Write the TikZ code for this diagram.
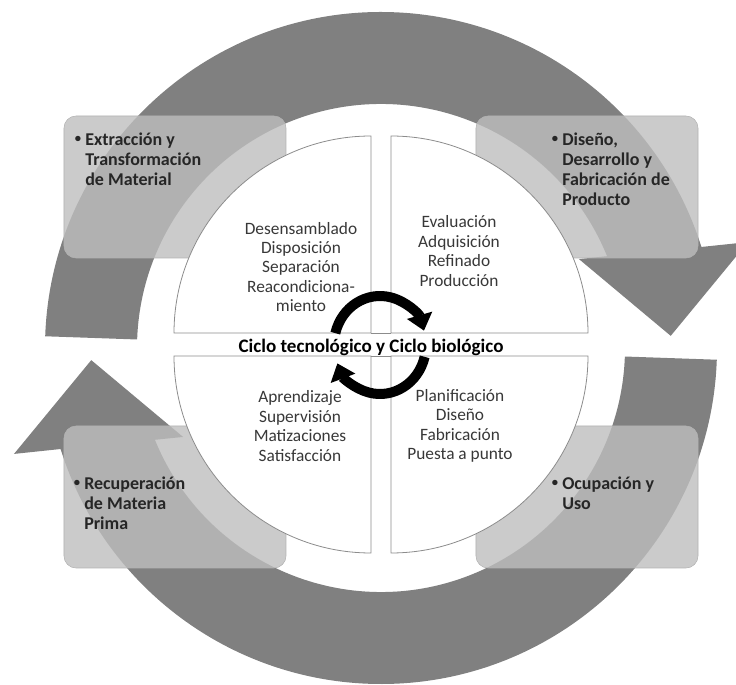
\documentclass[tikz,border=0pt]{standalone}
\usepackage{fontspec}
\setmainfont{Carlito}
\usetikzlibrary{positioning,arrows.meta,calc}

\definecolor{ringgray}{RGB}{128,128,128}
\definecolor{boxgray}{RGB}{190,190,190}
\definecolor{edgegray}{RGB}{140,140,140}

\newcommand{\stagedot}{\raisebox{0.35ex}{\scalebox{0.7}{\textbullet}}}

\begin{document}
\begin{tikzpicture}[x=0.75pt, y=0.75pt,
  ringarrow/.style={fill=ringgray},
  stagebox/.style={draw=black!30, line width=0.4pt, fill=boxgray, fill opacity=0.8,
    rounded corners=9pt, minimum width=166.5pt, minimum height=106.5pt, inner sep=0pt},
  stagetext/.style={anchor=north west, inner sep=0pt, text=black!85,
    font=\fontsize{13.5}{15}\selectfont\bfseries},
  quadrant/.style={draw=edgegray, line width=0.6pt, fill=white},
  quadtext/.style={align=center, inner sep=0pt, text=black!78,
    font=\fontsize{13}{14.6}\selectfont},
  cyclearrow/.style={line width=7.5pt, -{Triangle[width=19pt, length=12pt]}}
]
\useasboundingbox (-381,-337) rectangle (355,348);
\clip (-381,-337) rectangle (355,348);

% Ring arrows
\fill[ringarrow] (178:336) arc[start angle=178, end angle=17.5, radius=336]
  -- (16.1:382) -- (2.4:290) -- (24.2:217) -- (22.1:244)
  arc[start angle=22.1, end angle=178, radius=244] -- cycle;
\fill[ringarrow] (-2:336) arc[start angle=-2, end angle=-162.5, radius=336]
  -- (-163.9:382) -- (-177.6:290) -- (-155.8:217) -- (-157.9:244)
  arc[start angle=-157.9, end angle=-2, radius=244] -- cycle;

% Stage boxes
\node[stagebox] (tlbox) at (-206,161) {};
\node[stagebox] (trbox) at (206,161) {};
\node[stagebox] (blbox) at (-206,-149) {};
\node[stagebox] (brbox) at (206,-149) {};

% Quadrants
\draw[quadrant] (-10,15) -- (-207,15) arc[start angle=180, end angle=90, radius=197] -- cycle;
\draw[quadrant] (10,15) -- (10,212) arc[start angle=90, end angle=0, radius=197] -- cycle;
\draw[quadrant] (-10,-8) -- (-10,-205) arc[start angle=270, end angle=180, radius=197] -- cycle;
\draw[quadrant] (10,-8) -- (207,-8) arc[start angle=0, end angle=-90, radius=197] -- cycle;
\draw[edgegray, line width=0.6pt] (-10,15) -- (10,15);
\draw[edgegray, line width=0.6pt] (-10,-8) -- (10,-8);

% Cycle icon
\begin{scope}[shift={(-1,3)}]
\draw[cyclearrow] (166:46 and 49) arc[start angle=166, end angle=17, x radius=46, y radius=49];
\draw[cyclearrow] (-14:46 and 49) arc[start angle=-14, end angle=-158, x radius=46, y radius=49];
\end{scope}

% Quadrant texts
\node[quadtext] (tlquad) at (-80,81) {Desensamblado\\Disposición\\Separación\\Reacondiciona-\\miento};
\node[quadtext] (trquad) at (78,97) {Evaluación\\Adquisición\\Refinado\\Producción};
\node[quadtext] (blquad) at (-81,-78) {Aprendizaje\\Supervisión\\Matizaciones\\Satisfacción};
\node[quadtext] (brquad) at (79,-78) {Planificación\\Diseño\\Fabricación\\Puesta a punto};

\node[font=\fontsize{14.3}{16}\selectfont\bfseries, inner sep=0pt] (cycle) at (-10,1)
  {Ciclo tecnológico y Ciclo biológico};

% Stage texts
\node[stagetext] (tltext) at ([shift={(11,-16)}]tlbox.north west)
  {\begin{tabular}{@{}l@{\hspace{3pt}}l@{}}\stagedot & Extracción y\\ & Transformación\\ & de Material\end{tabular}};
\node[stagetext] (trtext) at ([shift={(76,-16)}]trbox.north west)
  {\begin{tabular}{@{}l@{\hspace{3pt}}l@{}}\stagedot & Diseño,\\ & Desarrollo y\\ & Fabricación de\\ & Producto\end{tabular}};
\node[stagetext] (bltext) at ([shift={(10,-50)}]blbox.north west)
  {\begin{tabular}{@{}l@{\hspace{3pt}}l@{}}\stagedot & Recuperación\\ & de Materia\\ & Prima\end{tabular}};
\node[stagetext] (brtext) at ([shift={(76,-50)}]brbox.north west)
  {\begin{tabular}{@{}l@{\hspace{3pt}}l@{}}\stagedot & Ocupación y\\ & Uso\end{tabular}};
\end{tikzpicture}
\end{document}
